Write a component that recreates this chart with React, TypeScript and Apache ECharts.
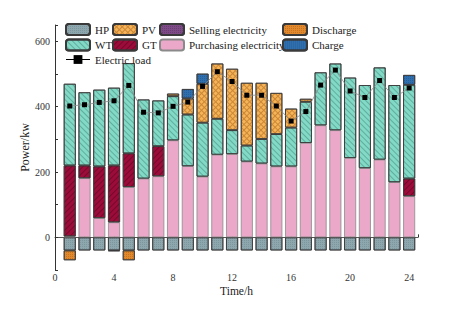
import React, { useEffect, useRef } from "react";
import * as echarts from "echarts";

const hours = [1, 2, 3, 4, 5, 6, 7, 8, 9, 10, 11, 12, 13, 14, 15, 16, 17, 18, 19, 20, 21, 22, 23, 24];
const hp = [-40, -40, -40, -40, -40, -40, -40, -40, -40, -40, -40, -40, -40, -40, -40, -40, -40, -40, -40, -40, -40, -40, -40, -40];
const discharge = [-30, 0, 0, -2, -30, 0, 0, 0, 0, 0, 0, 0, 0, 0, 0, 0, 0, 0, 0, 0, 0, 0, 0, 0];
const purchasing = [3, 181, 59, 46, 154, 180, 187, 297, 218, 186, 253, 255, 232, 226, 217, 217, 289, 343, 328, 243, 212, 238, 169, 126];
const gt = [217, 39, 158, 174, 103, 0, 92, 0, 0, 0, 0, 0, 0, 0, 0, 0, 0, 0, 0, 0, 0, 0, 0, 54];
const wt = [250, 224, 235, 238, 276, 242, 140, 135, 158, 165, 110, 73, 49, 75, 99, 119, 126, 162, 204, 246, 254, 282, 297, 287];
const pv = [0, 0, 0, 0, 0, 0, 0, 8, 49, 119, 169, 188, 192, 172, 126, 58, 9, 0, 0, 0, 0, 0, 0, 0];
const selling = [0, 0, 0, 0, 0, 0, 0, 0, 0, 0, 0, 0, 0, 0, 0, 0, 0, 0, 0, 0, 0, 0, 0, 0];
const charge = [0, 0, 0, 0, 0, 0, 0, 0, 29, 31, 0, 0, 0, 0, 0, 0, 0, 0, 0, 0, 0, 0, 0, 30];
const load = [402, 406, 413, 418, 465, 383, 381, 401, 414, 462, 507, 477, 435, 435, 402, 356, 385, 466, 512, 448, 428, 480, 428, 457];

const FONT = "'Liberation Serif', 'DejaVu Serif', serif";

// value first, hour second, so that the stack runs along the value dimension
const pts = (arr: number[]) => hours.map((h, i) => [arr[i] === 0 ? null : arr[i], h]);

const hatch = (rot: number, color: string) => ({
  symbol: "rect",
  symbolSize: 1,
  dashArrayX: [1, 0],
  dashArrayY: [1, 3],
  rotation: rot,
  color,
});
const dots = (color: string) => ({
  symbol: "rect",
  symbolSize: 1,
  dashArrayX: [1, 1],
  dashArrayY: [1, 1],
  rotation: 0,
  color,
});
const cross = (color: string) => ({
  symbol: "rect",
  symbolSize: 1,
  dashArrayX: [[4, 0], [1, 3], [1, 3], [1, 3]],
  dashArrayY: [1, 0],
  rotation: Math.PI / 4,
  color,
});

const barSeries = (name: string, arr: number[], color: string, decal: any, border = "#3a3a3a") => ({
  name,
  type: "bar",
  stack: "total",
  barWidth: 12,
  encode: { x: 1, y: 0 },
  data: pts(arr),
  itemStyle: { color, borderColor: border, borderWidth: 0.8, decal },
});

export default function App() {
  const ref = useRef<HTMLDivElement>(null);
  useEffect(() => {
    const chart = echarts.init(ref.current!, null, { renderer: "svg" });
    const legendBase = {
      orient: "vertical",
      padding: 0,
      itemWidth: 24,
      itemHeight: 11,
      itemGap: 2.5,
      textStyle: { fontFamily: FONT, fontSize: 11, color: "#222" },
      lineStyle: { color: "#000", width: 1 },
    };
    chart.setOption({
      animation: false,
      backgroundColor: "#fff",
      textStyle: { fontFamily: FONT },
      grid: { left: 55, right: 51, top: 25, bottom: 50 },
      legend: [
        { ...legendBase, left: 65, top: 23, data: ["HP", "WT", "Electric load"] },
        { ...legendBase, left: 112, top: 23, data: ["PV", "GT"] },
        { ...legendBase, left: 159, top: 23, data: ["Selling electricity", "Purchasing electricity"] },
        { ...legendBase, left: 282, top: 23, data: ["Discharge", "Charge"] },
      ],
      xAxis: {
        type: "value",
        min: 0,
        max: 24.6,
        interval: 4,
        name: "Time/h",
        nameLocation: "middle",
        nameGap: 15,
        nameMoveOverlap: false,
        nameTextStyle: { fontFamily: FONT, fontSize: 11.5, color: "#222" },
        axisLine: { show: true, lineStyle: { color: "#555", width: 1 } },
        axisTick: { show: true, inside: true, length: 3, lineStyle: { color: "#333" } },
        minorTick: { show: true, splitNumber: 2, length: 2, lineStyle: { color: "#333" } },
        splitLine: { show: false },
        axisLabel: {
          fontFamily: FONT,
          fontSize: 10,
          color: "#333",
          margin: 2,
          showMaxLabel: false,
          formatter: (v: number) => (v % 4 === 0 ? String(v) : ""),
        },
      },
      yAxis: {
        type: "value",
        min: -100,
        max: 650,
        interval: 100,
        name: "Power/kw",
        nameLocation: "middle",
        nameGap: 24,
        nameMoveOverlap: false,
        nameTextStyle: { fontFamily: FONT, fontSize: 12, color: "#222" },
        axisLine: { show: true, lineStyle: { color: "#333", width: 1 } },
        axisTick: { show: true, inside: true, length: 3, lineStyle: { color: "#333" } },
        splitLine: { show: false },
        axisLabel: {
          fontFamily: FONT,
          fontSize: 10,
          color: "#333",
          margin: 5,
          formatter: (v: number) => (v % 200 === 0 ? String(v) : ""),
        },
      },
      series: [
        barSeries("HP", hp, "#8ea7af", dots("rgba(40,70,80,0.18)")),
        barSeries("Discharge", discharge, "#e2892d", dots("rgba(120,50,0,0.25)")),
        barSeries("Purchasing electricity", purchasing, "#eba8c9", null, "#8a8a8a"),
        barSeries("GT", gt, "#9c0c3a", hatch(-Math.PI / 4, "rgba(60,0,20,0.4)")),
        barSeries("WT", wt, "#82d9c6", hatch(Math.PI / 4, "rgba(30,90,80,0.35)")),
        barSeries("PV", pv, "#f6b459", cross("rgba(150,80,10,0.45)")),
        barSeries("Selling electricity", selling, "#7d4b85", dots("rgba(40,0,50,0.2)")),
        barSeries("Charge", charge, "#2f6fae", dots("rgba(0,30,70,0.2)")),
        {
          name: "Electric load",
          type: "line",
          data: hours.map((h, i) => [h, load[i]]),
          symbol: "rect",
          symbolSize: 5,
          z: 10,
          itemStyle: { color: "#000" },
          lineStyle: { color: "#888", width: 0.8 },
        },
      ],
    });
    return () => chart.dispose();
  }, []);
  return <div ref={ref} style={{ width: 469, height: 320, margin: -8 }} />;
}
